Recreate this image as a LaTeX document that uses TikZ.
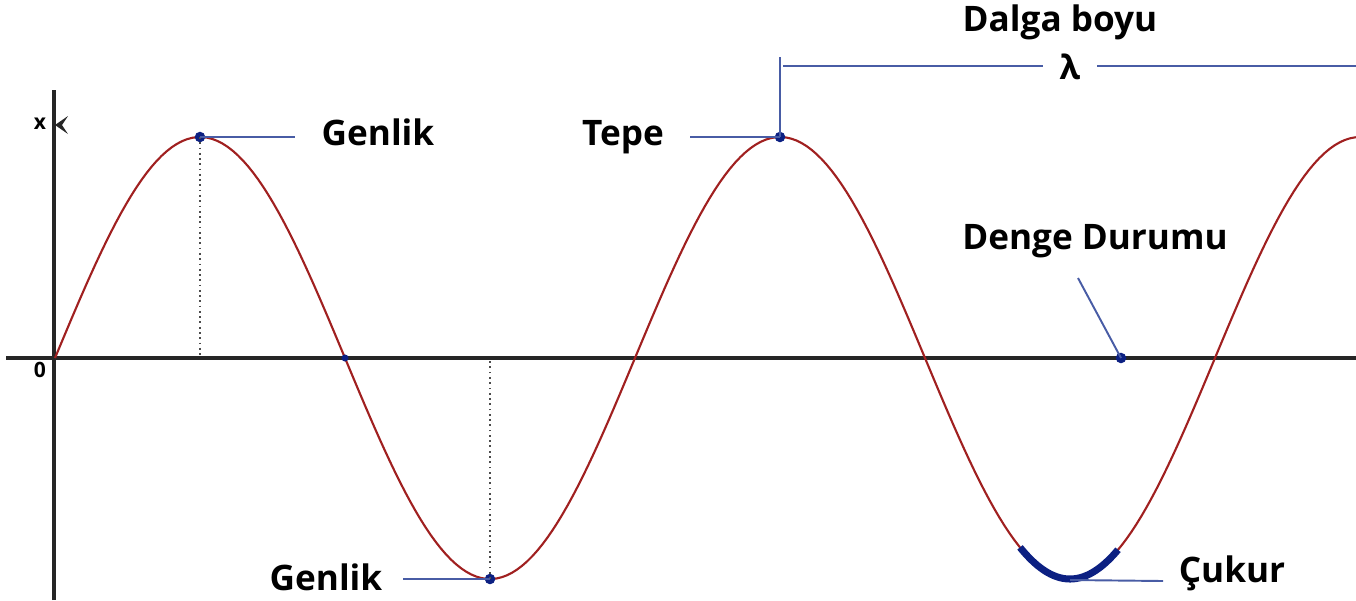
\documentclass[tikz,border=0pt]{standalone}
\usepackage{fontspec}
\setmainfont{Open Sans}
\usepackage{tikz}
\usetikzlibrary{positioning}
\definecolor{wavered}{RGB}{160,32,32}
\definecolor{leadblue}{RGB}{72,92,165}
\definecolor{dotblue}{RGB}{12,32,130}

\begin{document}
\begin{tikzpicture}[
    x=0.02cm, y=-0.02cm,
    axis/.style={line width=1.8pt, color=black!85},
    wave/.style={line width=1.2pt, color=wavered},
    lead/.style={line width=1.1pt, color=leadblue},
    guide/.style={dotted, line width=1pt, color=black!70},
    big label/.style={font=\fontsize{20}{22}\selectfont\bfseries, anchor=base},
    axis label/.style={font=\fontsize{12}{14}\selectfont\bfseries},
    dot/.style={circle, fill=dotblue, inner sep=0pt, minimum size=6pt}
]
\useasboundingbox (0,0) rectangle (1356,600);
\clip (0,0) rectangle (1356,600);

% Assen
\coordinate (yTop) at (54,90);
\coordinate (yBot) at (54,600);
\coordinate (xLeft) at (6,358);
\coordinate (xRight) at (1356,358);
\draw[axis] (yBot) -- (yTop);
\draw[axis] (xLeft) -- (xRight);
\fill[black!85] (55,125) -- (68,116) -- (62,125) -- (68,134) -- cycle;
\node[axis label] (xlab) at (40,124) {x};
\node[axis label] (zero) at (40,370) {0};

% Golf (periode 580, 360/580 = 0.62069)
\draw[wave] plot[domain=55:1370, samples=260] (\x, {358-221*sin(0.62069*(\x-55))});

% Punten op de golf
\node[dot] (peakA) at (200,137) {};
\node[dot] (troughA) at (490,579) {};
\node[dot] (peakB) at (780,137) {};
\node[dot, minimum size=4pt] (crossA) at (345,358) {};
\node[dot] (rest) at (1121,358) {};
\coordinate (troughB) at (1070,580);

% Stippellijnen
\draw[guide] (peakA.center) -- (peakA |- xLeft);
\draw[guide] (troughA.center) -- (troughA |- xLeft);

% Genlik
\coordinate (genlikTopEnd) at (295,137);
\draw[lead] (peakA.center) -- (genlikTopEnd);
\node[big label] (genlikTop) at (378,145) {Genlik};
\coordinate (genlikBotEnd) at (403,579);
\draw[lead] (troughA.center) -- (genlikBotEnd);
\node[big label] (genlikBot) at (326,590) {Genlik};

% Tepe
\coordinate (tepeEnd) at (690,137);
\draw[lead] (peakB.center) -- (tepeEnd);
\node[big label] (tepe) at (623,145) {Tepe};

% Dalga boyu
\coordinate (lamTop) at (780,57);
\coordinate (lamLeft) at (783,66);
\coordinate (lamRight) at (1356,66);
\draw[lead] (peakB.center) -- (lamTop);
\node[font=\fontsize{19}{21}\selectfont\bfseries, inner xsep=9.5pt, inner ysep=0pt] (lambda) at (1070,67) {λ};
\draw[lead] (lamLeft) -- (lambda.west |- lamLeft);
\draw[lead] (lambda.east |- lamRight) -- (lamRight);
\node[big label] (dalga) at (1060,31) {Dalga boyu};

% Denge durumu
\coordinate (dengeTip) at (1078,278);
\draw[lead] (dengeTip) -- (rest.center);
\node[big label] (denge) at (1095,249) {Denge Durumu};

% Çukur
\draw[line width=4pt, color=dotblue] plot[domain=1020:1118, samples=40] (\x, {358-221*sin(0.62069*(\x-55))});
\coordinate (cukurEnd) at (1163,581);
\draw[lead] (troughB) -- (cukurEnd);
\node[big label] (cukur) at (1232,582) {Çukur};

\end{tikzpicture}
\end{document}
